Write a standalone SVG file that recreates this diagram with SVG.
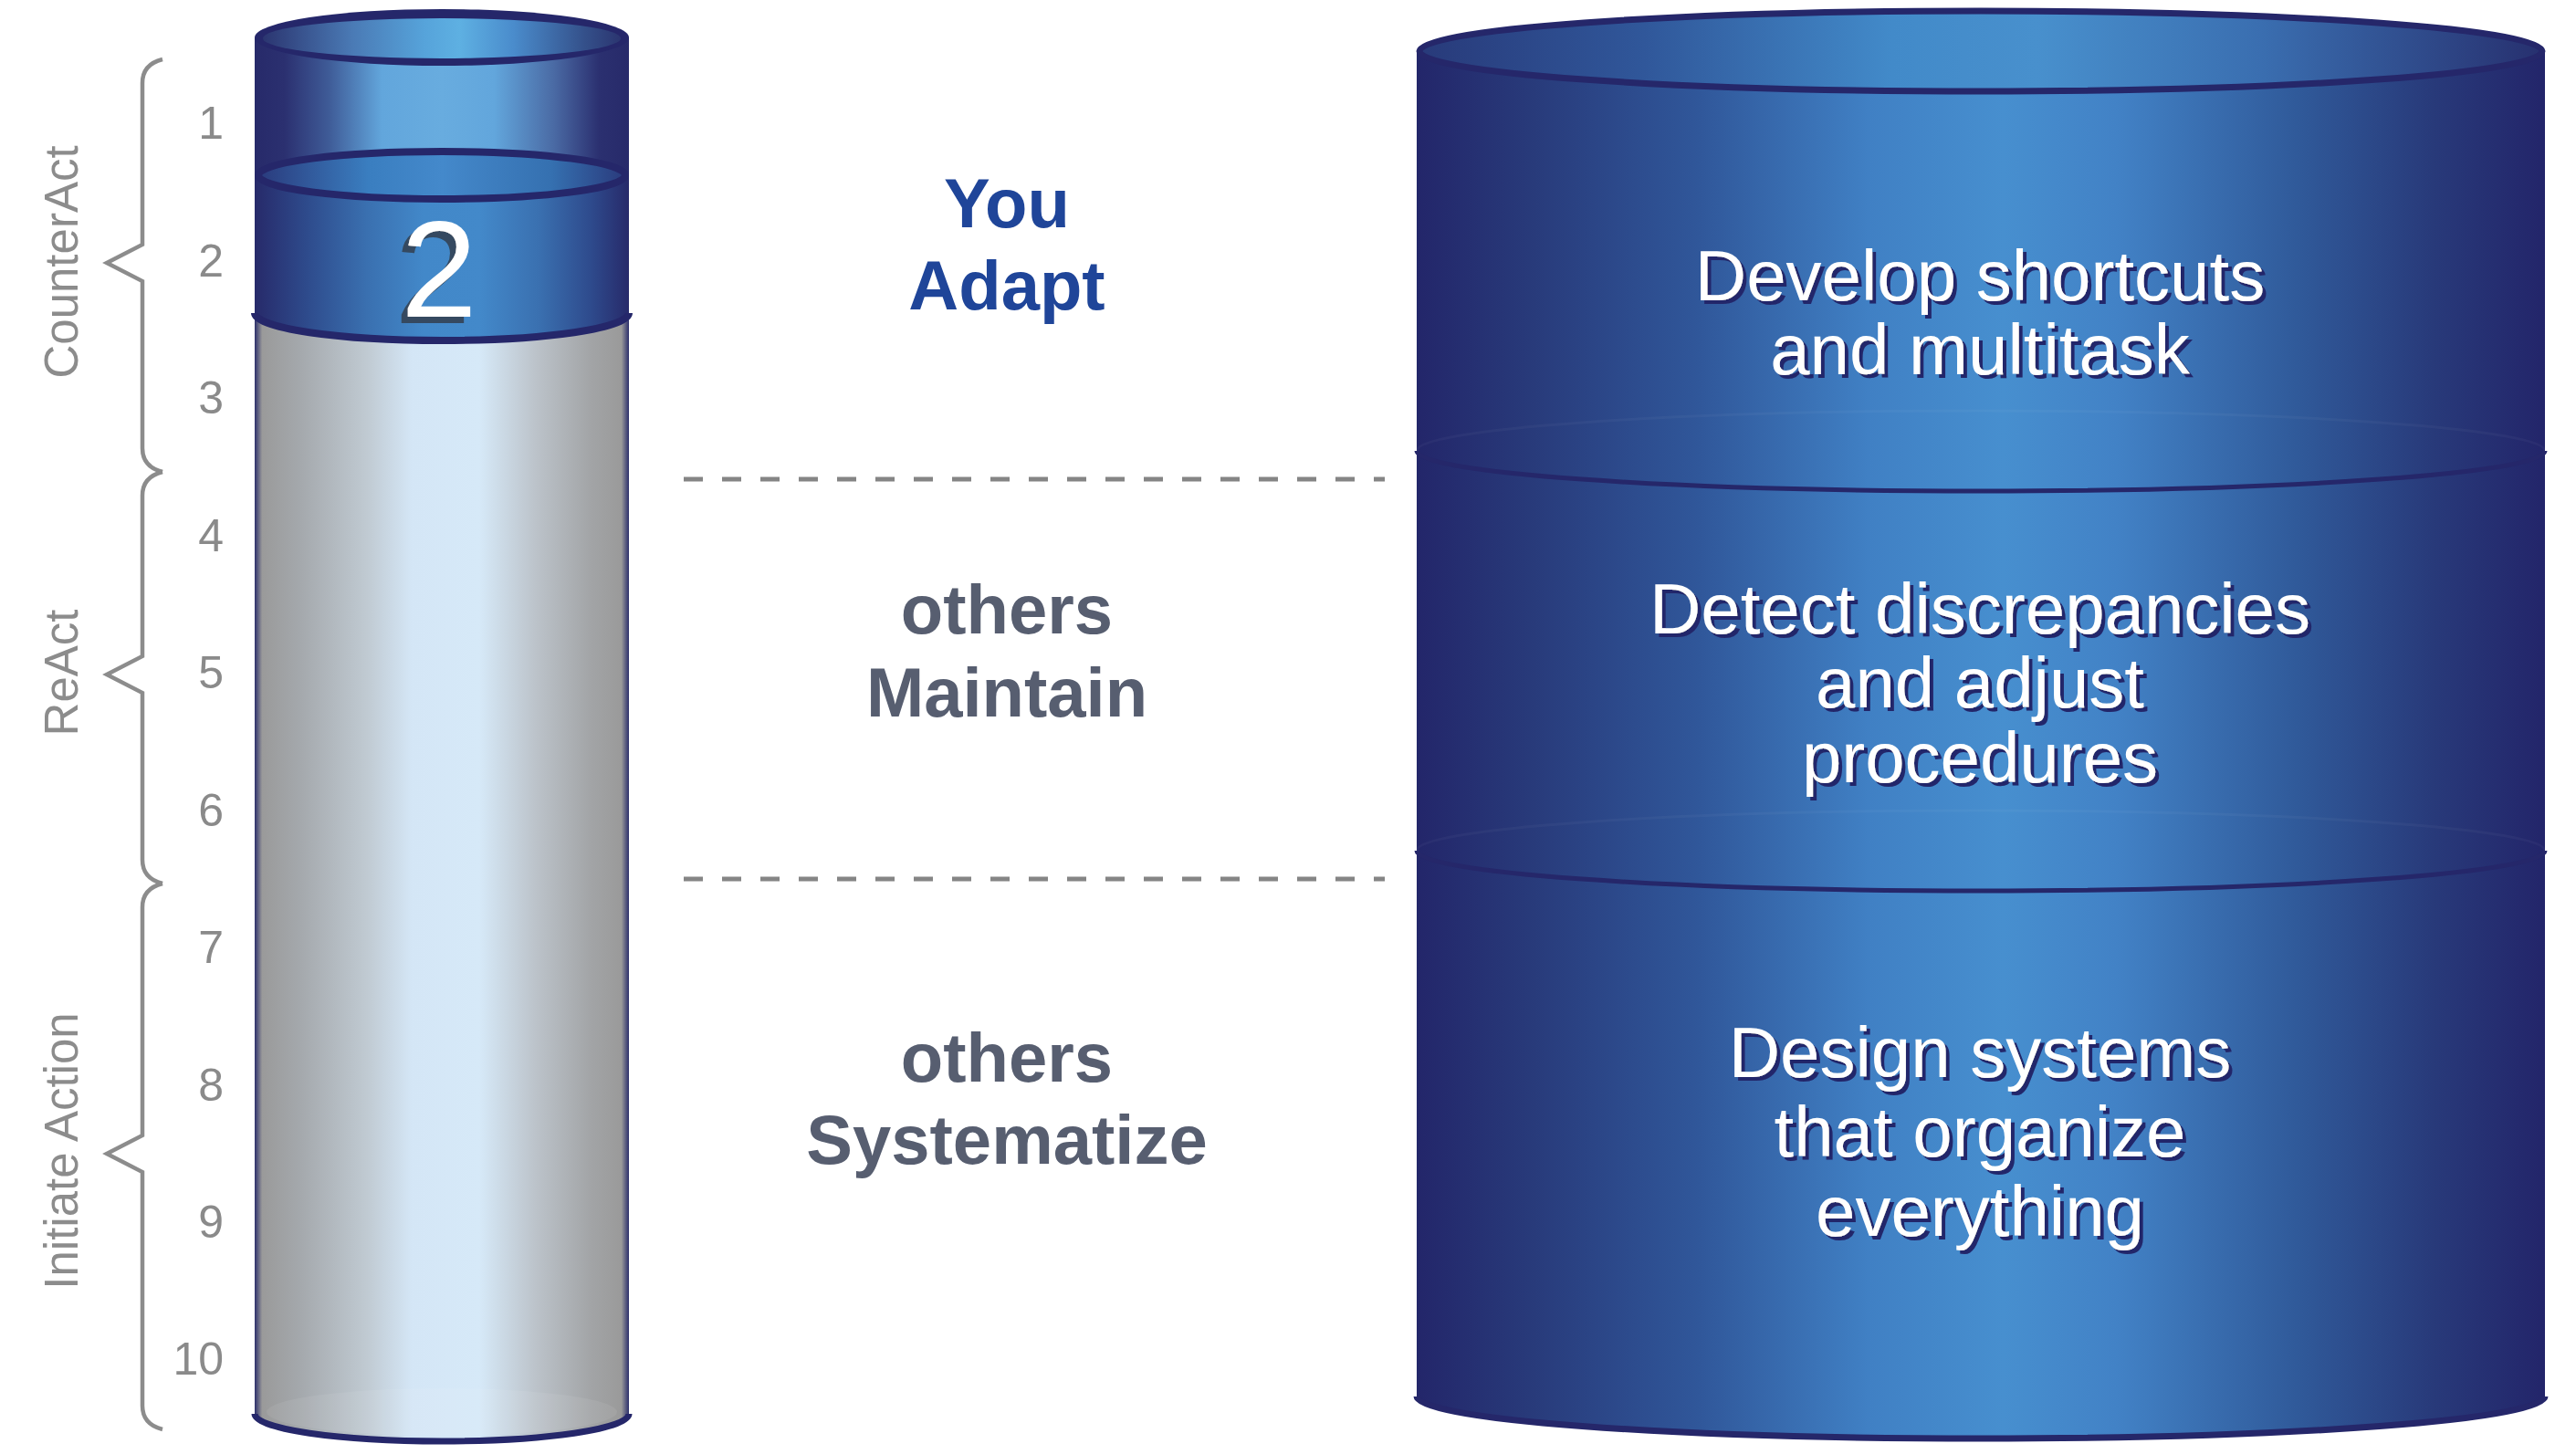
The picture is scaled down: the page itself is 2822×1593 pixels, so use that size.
<svg xmlns="http://www.w3.org/2000/svg" width="2822" height="1593" viewBox="0 0 2822 1593">
  <defs>
    <linearGradient id="gGray" x1="0" y1="0" x2="1" y2="0">
      <stop offset="0" stop-color="#2c2f6b"/>
      <stop offset="0.02" stop-color="#9a9a9a"/>
      <stop offset="0.12" stop-color="#a4a8ac"/>
      <stop offset="0.3" stop-color="#c0cad2"/>
      <stop offset="0.42" stop-color="#d4e6f6"/>
      <stop offset="0.6" stop-color="#d6e9f8"/>
      <stop offset="0.75" stop-color="#bcc3ca"/>
      <stop offset="0.9" stop-color="#a2a4a6"/>
      <stop offset="0.98" stop-color="#9a9a9a"/>
      <stop offset="1" stop-color="#2c2f6b"/>
    </linearGradient>
    <linearGradient id="gGlass" x1="0" y1="0" x2="1" y2="0">
      <stop offset="0" stop-color="#272a6a"/>
      <stop offset="0.08" stop-color="#2b3070"/>
      <stop offset="0.2" stop-color="#3f5c98"/>
      <stop offset="0.34" stop-color="#62a6dc"/>
      <stop offset="0.5" stop-color="#68acdf"/>
      <stop offset="0.64" stop-color="#62a6dc"/>
      <stop offset="0.8" stop-color="#4a6aa4"/>
      <stop offset="0.92" stop-color="#2b3070"/>
      <stop offset="1" stop-color="#272a6a"/>
    </linearGradient>
    <linearGradient id="gLiquid" x1="0" y1="0" x2="1" y2="0">
      <stop offset="0" stop-color="#272a6a"/>
      <stop offset="0.14" stop-color="#2e4b8c"/>
      <stop offset="0.3" stop-color="#3a70b0"/>
      <stop offset="0.45" stop-color="#4288c9"/>
      <stop offset="0.6" stop-color="#4389ca"/>
      <stop offset="0.76" stop-color="#3a70b0"/>
      <stop offset="0.9" stop-color="#2e4a8c"/>
      <stop offset="1" stop-color="#272a6a"/>
    </linearGradient>
    <linearGradient id="gLiquidTop" x1="0" y1="0" x2="1" y2="0">
      <stop offset="0" stop-color="#2a3a7c"/>
      <stop offset="0.3" stop-color="#3a7ec0"/>
      <stop offset="0.5" stop-color="#4489cb"/>
      <stop offset="0.8" stop-color="#3570b0"/>
      <stop offset="1" stop-color="#2a3a7c"/>
    </linearGradient>
    <linearGradient id="gTop" x1="0" y1="0" x2="1" y2="0">
      <stop offset="0" stop-color="#2b3570"/>
      <stop offset="0.25" stop-color="#4a7ab5"/>
      <stop offset="0.45" stop-color="#56a3da"/>
      <stop offset="0.55" stop-color="#5eb0e2"/>
      <stop offset="0.7" stop-color="#4a8ccc"/>
      <stop offset="0.9" stop-color="#34508a"/>
      <stop offset="1" stop-color="#2b3570"/>
    </linearGradient>
    <linearGradient id="gBig" x1="0" y1="0" x2="1" y2="0">
      <stop offset="0" stop-color="#23266a"/>
      <stop offset="0.1" stop-color="#283a7a"/>
      <stop offset="0.25" stop-color="#30579a"/>
      <stop offset="0.4" stop-color="#4080c4"/>
      <stop offset="0.52" stop-color="#478fcf"/>
      <stop offset="0.62" stop-color="#4282c6"/>
      <stop offset="0.78" stop-color="#305a9a"/>
      <stop offset="0.9" stop-color="#283a7a"/>
      <stop offset="1" stop-color="#23256a"/>
    </linearGradient>
    <linearGradient id="gBigTop" x1="0" y1="0" x2="1" y2="0">
      <stop offset="0" stop-color="#283a7a"/>
      <stop offset="0.2" stop-color="#30579a"/>
      <stop offset="0.42" stop-color="#428ac9"/>
      <stop offset="0.55" stop-color="#4890cd"/>
      <stop offset="0.75" stop-color="#3a6eb0"/>
      <stop offset="1" stop-color="#27306f"/>
    </linearGradient>
    <filter id="shNavy" x="-5%" y="-20%" width="110%" height="140%">
      <feFlood flood-color="#23266a"/>
      <feComposite in2="SourceAlpha" operator="in"/>
      <feOffset dx="4" dy="4"/>
      <feMerge><feMergeNode/><feMergeNode in="SourceGraphic"/></feMerge>
    </filter>
    <filter id="shTwo" x="-20%" y="-20%" width="140%" height="140%">
      <feFlood flood-color="#344a60"/>
      <feComposite in2="SourceAlpha" operator="in"/>
      <feOffset dx="-7" dy="7"/>
      <feMerge><feMergeNode/><feMergeNode in="SourceGraphic"/></feMerge>
    </filter>
    <style>
      .num { font-family: "Liberation Sans", Arial, sans-serif; font-size: 50px; fill: #8a8a8a; text-anchor: end; }
      .side { font-family: "Liberation Sans", Arial, sans-serif; font-size: 51px; fill: #8c8c8c; text-anchor: middle; }
      .brace { fill: none; stroke: #8c8c8c; stroke-width: 4.5; stroke-linejoin: miter; }
      .mid { font-family: "Liberation Sans", Arial, sans-serif; font-size: 76px; font-weight: bold; text-anchor: middle; }
      .you { fill: #1f4599; }
      .oth { fill: #575e70; }
      .big { font-family: "Liberation Sans", Arial, sans-serif; font-size: 78px; fill: #ffffff; text-anchor: middle; filter: url(#shNavy); }
      .navy { fill: none; stroke: #25276a; }
      .dash { stroke: #858585; stroke-width: 5; stroke-dasharray: 21 21; fill: none; }
    </style>
  </defs>

  <rect x="0" y="0" width="2822" height="1593" fill="#ffffff"/>

  <!-- Scale braces and labels -->
  <g id="scale-counteract">
    <path class="brace" d="M178,65 C162,69 156,78 156,91 L156,268 L117,288 L156,308 L156,491 C156,504 162,513 178,517"/>
    <text class="side" transform="translate(85,287) rotate(-90)">CounterAct</text>
  </g>
  <g id="scale-react">
    <path class="brace" d="M178,517 C162,521 156,530 156,543 L156,719 L117,739 L156,759 L156,942 C156,955 162,964 178,968"/>
    <text class="side" transform="translate(85,737) rotate(-90)">ReAct</text>
  </g>
  <g id="scale-initiate">
    <path class="brace" d="M178,968 C162,972 156,981 156,994 L156,1244 L117,1264 L156,1284 L156,1540 C156,1553 162,1562 178,1566"/>
    <text class="side" transform="translate(85,1261) rotate(-90)">Initiate Action</text>
  </g>

  <g id="numbers">
    <text class="num" x="245" y="152">1</text>
    <text class="num" x="245" y="303">2</text>
    <text class="num" x="245" y="453">3</text>
    <text class="num" x="245" y="604">4</text>
    <text class="num" x="245" y="754">5</text>
    <text class="num" x="245" y="905">6</text>
    <text class="num" x="245" y="1055">7</text>
    <text class="num" x="245" y="1206">8</text>
    <text class="num" x="245" y="1356">9</text>
    <text class="num" x="245" y="1506">10</text>
  </g>

  <!-- Small cylinder gauge -->
  <g id="gauge">
    <path d="M279,343 L279,1549 A205,30 0 0 0 689,1549 L689,343 Z" fill="url(#gGray)"/>
    <ellipse cx="484" cy="1547" rx="192" ry="26" fill="#ffffff" opacity="0.07"/>
    <path class="navy" d="M279,1549 A205,30 0 0 0 689,1549" stroke-width="7"/>
    <path d="M279,41 L279,192 A205,30 0 0 0 689,192 L689,41 Z" fill="url(#gGlass)"/>
    <path d="M279,192 L279,343 A205,30 0 0 0 689,343 L689,192 Z" fill="url(#gLiquid)"/>
    <path class="navy" d="M279,343 A205,30 0 0 0 689,343" stroke-width="8"/>
    <ellipse cx="484" cy="192" rx="201" ry="26" fill="url(#gLiquidTop)" stroke="#25276a" stroke-width="8"/>
    <ellipse cx="484" cy="41" rx="205" ry="31" fill="#25276a"/>
    <ellipse cx="484" cy="42" rx="196" ry="22" fill="url(#gTop)"/>
    <text x="481" y="347" font-family="'Liberation Sans', Arial, sans-serif" font-size="150" fill="#ffffff" text-anchor="middle" filter="url(#shTwo)">2</text>
  </g>

  <!-- Separators -->
  <g id="connectors">
    <line class="dash" x1="749" y1="525" x2="1517" y2="525"/>
    <line class="dash" x1="749" y1="963" x2="1517" y2="963"/>
  </g>

  <!-- Middle labels -->
  <g id="label-adapt">
    <text class="mid you" x="1103" y="249">You</text>
    <text class="mid you" x="1103" y="339">Adapt</text>
  </g>
  <g id="label-maintain">
    <text class="mid oth" x="1103" y="694">others</text>
    <text class="mid oth" x="1103" y="785">Maintain</text>
  </g>
  <g id="label-systematize">
    <text class="mid oth" x="1103" y="1185">others</text>
    <text class="mid oth" x="1103" y="1275">Systematize</text>
  </g>

  <!-- Big cylinder -->
  <g id="big-cylinder">
    <path d="M1552,56 L1552,1530 A618,46 0 0 0 2788,1530 L2788,56 Z" fill="url(#gBig)"/>
    <path class="navy" d="M1552,1530 A618,46 0 0 0 2788,1530" stroke-width="7"/>
    <ellipse cx="2170" cy="56" rx="615" ry="44" fill="url(#gBigTop)" stroke="#25276a" stroke-width="7"/>
  </g>
  <g id="section-shortcuts">
    <text class="big" x="2169" y="329">Develop shortcuts</text>
    <text class="big" x="2169" y="410">and multitask</text>
  </g>
  <g id="section-discrepancies">
    <path d="M1552,494 A618,44 0 0 1 2788,494" fill="none" stroke="#ffffff" stroke-opacity="0.035" stroke-width="3"/>
    <path class="navy" d="M1552,494 A618,44 0 0 0 2788,494" stroke-width="5"/>
    <text class="big" x="2169" y="694">Detect discrepancies</text>
    <text class="big" x="2169" y="775">and adjust</text>
    <text class="big" x="2169" y="857">procedures</text>
  </g>
  <g id="section-systems">
    <path d="M1552,932 A618,44 0 0 1 2788,932" fill="none" stroke="#ffffff" stroke-opacity="0.035" stroke-width="3"/>
    <path class="navy" d="M1552,932 A618,44 0 0 0 2788,932" stroke-width="5"/>
    <text class="big" x="2169" y="1180">Design systems</text>
    <text class="big" x="2169" y="1267">that organize</text>
    <text class="big" x="2169" y="1354">everything</text>
  </g>
</svg>
